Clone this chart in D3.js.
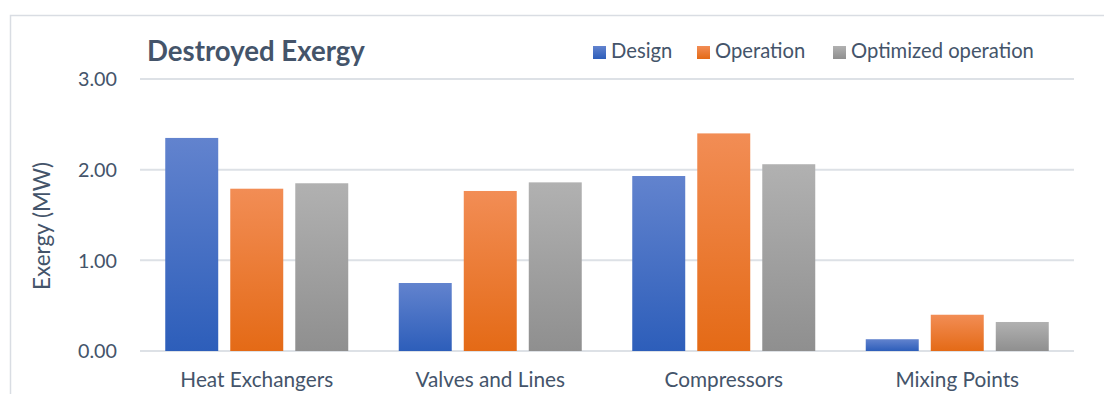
<!DOCTYPE html>
<html>
<head>
<meta charset="utf-8">
<script src="https://cdn.jsdelivr.net/npm/d3@7"></script>
<style>
  html, body { margin: 0; padding: 0; background: #ffffff; }
  svg { display: block; font-family: Lato, "Open Sans", sans-serif; }
</style>
</head>
<body>
<svg id="chart" width="1104" height="394"></svg>
<script>
// Destroyed exergy per equipment group (MW)
const categories = ["Heat Exchangers", "Valves and Lines", "Compressors", "Mixing Points"];
const seriesNames = ["Design", "Operation", "Optimized operation"];
const design = [2.35, 0.75, 1.93, 0.13];
const operation = [1.79, 1.765, 2.40, 0.40];
const optimized = [1.85, 1.86, 2.06, 0.32];
const yTicks = [0, 1, 2, 3];

const seriesValues = [design, operation, optimized];
const gradStops = [
  ["#6283ce", "#2d5eba"],
  ["#f28d55", "#e46a16"],
  ["#b1b1b1", "#8f8f8f"]
];
const textColor = "#44546a";

const svg = d3.select("#chart");
const plot = { left: 140, right: 1074, top: 79, bottom: 351 };

// scale a text's font size so its rendered width equals the wanted width
function fitWidth(sel, base, width) {
  sel.attr("font-size", base);
  const w = sel.node().getComputedTextLength();
  const size = base * width / w;
  return size;
}

// outer chart frame
svg.append("rect")
  .attr("x", 10.5).attr("y", 15.5)
  .attr("width", 1200).attr("height", 500)
  .attr("fill", "none").attr("stroke", "#d9dde3").attr("stroke-width", 1.5);

const defs = svg.append("defs");
gradStops.forEach((g, i) => {
  const lg = defs.append("linearGradient")
    .attr("id", "grad" + i).attr("x1", 0).attr("y1", 0).attr("x2", 0).attr("y2", 1);
  lg.append("stop").attr("offset", "0%").attr("stop-color", g[0]);
  lg.append("stop").attr("offset", "100%").attr("stop-color", g[1]);
});

const x0 = d3.scaleBand().domain(categories).range([plot.left, plot.right]).paddingInner(0).paddingOuter(0);
const groupW = 183;
const x1 = d3.scaleBand().domain(seriesNames)
  .range([0, groupW]).paddingInner(0.185).paddingOuter(0);
const y = d3.scaleLinear().domain([0, 3]).range([plot.bottom, plot.top]);

// gridlines
svg.append("g")
  .selectAll("line")
  .data(yTicks)
  .join("line")
  .attr("x1", plot.left).attr("x2", plot.right)
  .attr("y1", d => y(d)).attr("y2", d => y(d))
  .attr("stroke", "#dde1e6").attr("stroke-width", 2);

// bars
const groups = svg.append("g")
  .selectAll("g")
  .data(categories)
  .join("g")
  .attr("transform", c => `translate(${x0(c) + (x0.bandwidth() - groupW) / 2},0)`);

groups.selectAll("rect")
  .data((c, ci) => seriesNames.map((s, si) => ({ s, si, v: seriesValues[si][ci] })))
  .join("rect")
  .attr("x", d => x1(d.s))
  .attr("width", x1.bandwidth())
  .attr("y", d => y(d.v))
  .attr("height", d => y(0) - y(d.v))
  .attr("fill", d => `url(#grad${d.si})`);

// y tick labels
const yAxis = d3.axisLeft(y).tickValues(yTicks).tickFormat(d3.format(".2f")).tickSize(0).tickPadding(0);
const yg = svg.append("g").attr("transform", `translate(${plot.left - 23},0)`).call(yAxis);
yg.select(".domain").remove();
const tickText = yg.selectAll("text").attr("fill", textColor).attr("font-family", "Lato, sans-serif").attr("dy", "0.34em");
const tickSize = fitWidth(yg.select("text"), 18, 39);
tickText.attr("font-size", tickSize);

// x category labels
const xAxis = d3.axisBottom(x0).tickSize(0).tickPadding(0);
const xg = svg.append("g").attr("transform", `translate(0,${plot.bottom + 29})`).call(xAxis);
xg.select(".domain").remove();
const catText = xg.selectAll("text").attr("fill", textColor).attr("font-family", "Lato, sans-serif").attr("dy", "0.35em");
const catSize = fitWidth(catText.filter((d, i) => i === 0), 18, 153);
catText.attr("font-size", catSize);

// y axis title
const yTitle = svg.append("text")
  .attr("transform", `translate(50,226) rotate(-90)`)
  .attr("text-anchor", "middle")
  .attr("fill", textColor)
  .text("Exergy (MW)");
yTitle.attr("font-size", fitWidth(yTitle, 19, 128));

// chart title
const title = svg.append("text")
  .attr("x", 147).attr("y", 61)
  .attr("fill", textColor).attr("font-weight", "bold")
  .text("Destroyed Exergy");
title.attr("font-size", fitWidth(title, 26, 218));

// legend
const legendX = [593, 697, 833];
const lg = svg.append("g");
const legendTexts = [];
seriesNames.forEach((s, i) => {
  lg.append("rect")
    .attr("x", legendX[i]).attr("y", 46)
    .attr("width", 13).attr("height", 13)
    .attr("fill", `url(#grad${i})`);
  legendTexts.push(lg.append("text")
    .attr("x", legendX[i] + 18).attr("y", 58)
    .attr("fill", textColor)
    .text(s));
});
const legSize = fitWidth(legendTexts[2], 18, 183);
legendTexts.forEach(t => t.attr("font-size", legSize));
</script>
</body>
</html>
